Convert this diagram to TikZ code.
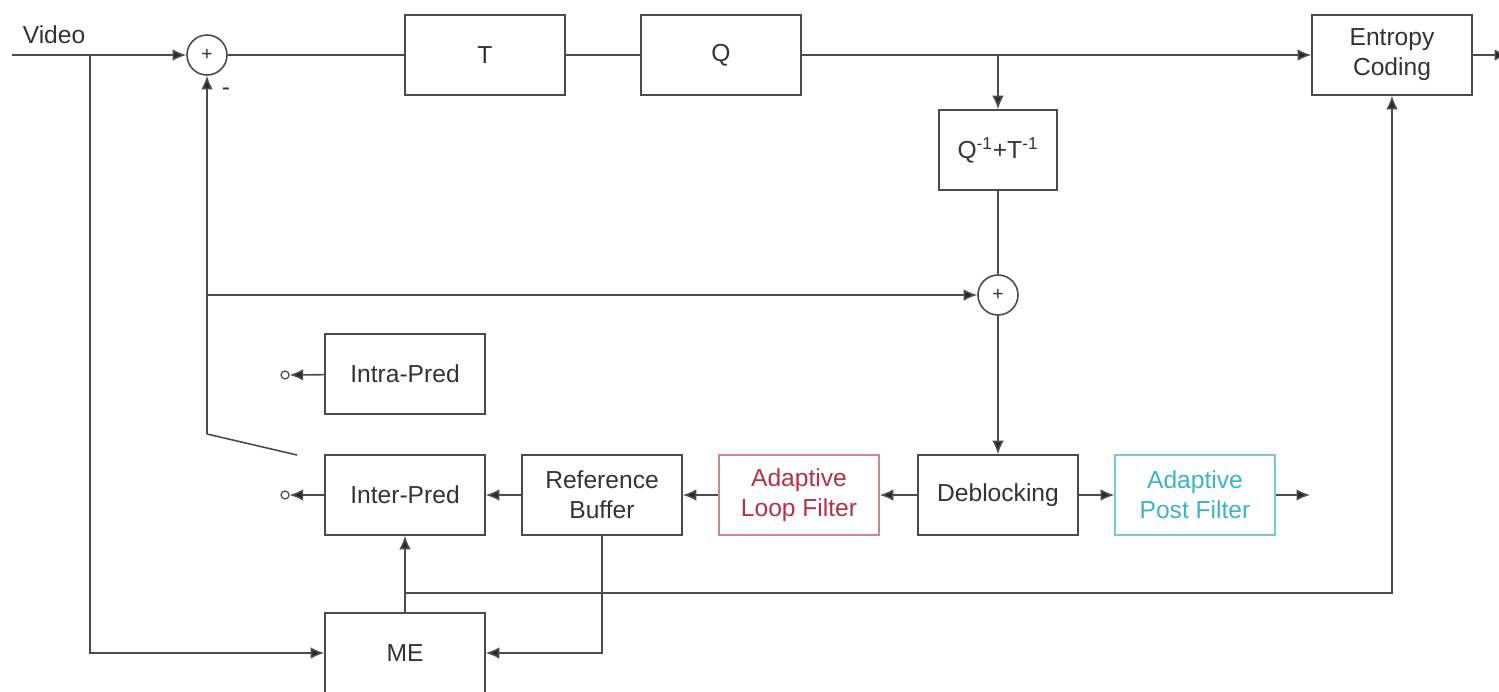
\documentclass[tikz,border=0pt]{standalone}
\usepackage{fontspec}
\setmainfont{Liberation Sans}
\usepackage{xcolor}
\usepackage{tikz}
\usetikzlibrary{arrows.meta}
\definecolor{wire}{RGB}{75,75,75}
\definecolor{loopred}{RGB}{180,50,70}
\definecolor{postcyan}{RGB}{60,180,195}

\begin{document}
\begin{tikzpicture}[x=0.02cm, y=-0.02cm, line width=0.9pt, color=wire, text=black!80,
    font=\fontsize{14}{17}\selectfont,
    block/.style={draw=wire, rectangle, minimum width=3.2cm, minimum height=1.6cm, align=center, inner sep=2pt},
    adder/.style={draw=wire, circle, minimum size=0.8cm, inner sep=0pt, font=\fontsize{11}{11}\selectfont},
    contact/.style={draw=wire, circle, minimum size=0.16cm, inner sep=0pt, line width=0.7pt},
    sig/.style={-{Latex[length=0.27cm, width=0.23cm, fill=black!85]}}]
    \useasboundingbox (0,0) rectangle (1499,691);

    % forward path
    \node[anchor=west, inner sep=0pt] (vid) at (22,35) {Video};
    \node[adder] (sumA) at (207,55) {+};
    \node[inner sep=0pt] (minus) at (226,92) {-};
    \node[block] (T) at (485,55) {T};
    \node[block] (Q) at (721,55) {Q};
    \node[block] (ent) at (1392,55) {Entropy\\Coding};
    \node[block, minimum width=2.36cm] (iq) at (998,150) {Q\textsuperscript{-1}+T\textsuperscript{-1}};
    \node[adder] (sumB) at (998,295) {+};

    % prediction and filters
    \node[block] (intra) at (405,374) {Intra-Pred};
    \node[block] (inter) at (405,495) {Inter-Pred};
    \node[block] (refbuf) at (602,495) {Reference\\Buffer};
    \node[block, draw=loopred!60, text=loopred] (alf) at (799,495) {Adaptive\\Loop Filter};
    \node[block] (deblk) at (998,495) {Deblocking};
    \node[block, draw=postcyan!70, text=postcyan] (apf) at (1195,495) {Adaptive\\Post Filter};
    \node[block] (me) at (405,653) {ME};
    \node[contact] (ctA) at (285,375) {};
    \node[contact] (ctB) at (285,495) {};

    \coordinate (vin) at (12,55);
    \coordinate (vsplit) at (90,55);
    \coordinate (qsplit) at (998,55);
    \coordinate (out) at (1508,55);
    \coordinate (fb) at (207,434);
    \coordinate (sw) at (297,455);
    \coordinate (mesplit) at (405,593);
    \coordinate (pout) at (1310,495);

    \draw[sig] (vin) -- (sumA);
    \draw[sig] (vsplit) |- (me);
    \draw (sumA) -- (T);
    \draw (T) -- (Q);
    \draw[sig] (Q) -- (ent);
    \draw[sig] (ent) -- (out);
    \draw[sig] (qsplit) -- (iq);
    \draw (iq) -- (sumB);
    \draw[sig] (sumB) -- (deblk);
    \draw[sig] (fb) -- (sumA);
    \draw (fb) -- (sw);
    \draw[sig] (fb |- sumB) -- (sumB);
    \draw[sig] (intra) -- (ctA);
    \draw[sig] (inter) -- (ctB);
    \draw[sig] (refbuf) -- (inter);
    \draw[sig] (alf) -- (refbuf);
    \draw[sig] (deblk) -- (alf);
    \draw[sig] (deblk) -- (apf);
    \draw[sig] (apf) -- (pout);
    \draw[sig] (refbuf.south) |- (me);
    \draw[sig] (me) -- (inter);
    \draw[sig] (mesplit) -| (ent);
\end{tikzpicture}
\end{document}
